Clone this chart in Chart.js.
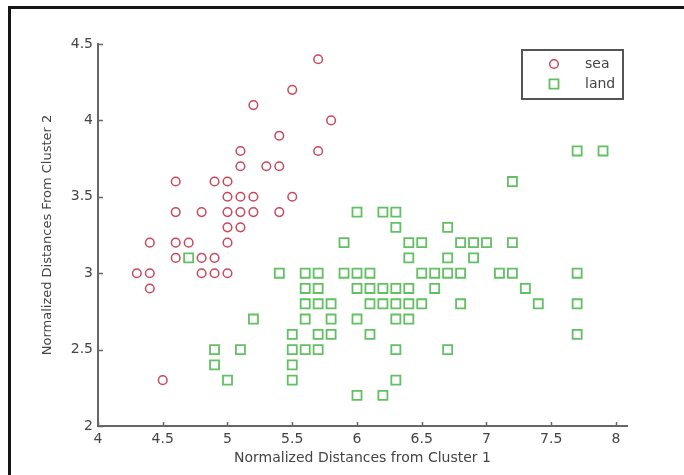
<!DOCTYPE html>
<html>
<head>
<meta charset="utf-8">
<script src="https://cdn.jsdelivr.net/npm/chart.js@4.4.1/dist/chart.umd.min.js"></script>
<style>
  html, body { margin: 0; padding: 0; background: #fff; overflow: hidden; }
  canvas { display: block; }
</style>
</head>
<body>
<canvas id="c" width="684" height="475"></canvas>
<script>
// ---- data ----
const seriesNames = ['sea', 'land'];
const seaX = [5.7,5.5,5.2,5.8,5.4,5.1,5.7,5.1,5.3,5.4,4.6,4.9,5.0,5.0,5.1,5.2,5.5,4.6,4.8,5.0,5.1,5.2,5.4,5.0,5.1,4.4,4.6,4.7,5.0,4.6,4.8,4.9,4.3,4.4,4.8,4.9,5.0,4.4,4.5];
const seaY = [4.4,4.2,4.1,4.0,3.9,3.8,3.8,3.7,3.7,3.7,3.6,3.6,3.6,3.5,3.5,3.5,3.5,3.4,3.4,3.4,3.4,3.4,3.4,3.3,3.3,3.2,3.2,3.2,3.2,3.1,3.1,3.1,3.0,3.0,3.0,3.0,3.0,2.9,2.3];
const landX = [7.7,7.9, 7.2, 6.0,6.2,6.3, 6.3,6.7,
  5.9,6.4,6.5,6.8,6.9,7.0,7.2, 4.7,6.4,6.7,6.9,
  5.4,5.6,5.7,5.9,6.0,6.1,6.5,6.6,6.7,6.8,7.1,7.2,7.7,
  5.6,5.7,6.0,6.1,6.2,6.3,6.4,6.6,7.3,
  5.6,5.7,5.8,6.1,6.2,6.3,6.4,6.5,6.8,7.4,7.7,
  5.2,5.6,5.8,6.0,6.3,6.4,
  5.5,5.7,5.8,6.1,7.7,
  4.9,5.1,5.5,5.6,5.7,6.3,6.7,
  4.9,5.5, 5.0,5.5,6.3, 6.0,6.2];
const landY = [3.8,3.8, 3.6, 3.4,3.4,3.4, 3.3,3.3,
  3.2,3.2,3.2,3.2,3.2,3.2,3.2, 3.1,3.1,3.1,3.1,
  3.0,3.0,3.0,3.0,3.0,3.0,3.0,3.0,3.0,3.0,3.0,3.0,3.0,
  2.9,2.9,2.9,2.9,2.9,2.9,2.9,2.9,2.9,
  2.8,2.8,2.8,2.8,2.8,2.8,2.8,2.8,2.8,2.8,2.8,
  2.7,2.7,2.7,2.7,2.7,2.7,
  2.6,2.6,2.6,2.6,2.6,
  2.5,2.5,2.5,2.5,2.5,2.5,2.5,
  2.4,2.4, 2.3,2.3,2.3, 2.2,2.2];
const xTickValues = [4, 4.5, 5, 5.5, 6, 6.5, 7, 7.5, 8];
const yTickValues = [2, 2.5, 3, 3.5, 4, 4.5];
const xTitle = 'Normalized Distances from Cluster 1';
const yTitle = 'Normalized Distances From Cluster 2';

// ---- styling ----
const FONT = 'DejaVu Sans';
const TEXT = '#444';
const AXIS = '#666';
const RED = '#c8485c';
const GREEN = '#62c062';

const toPts = (xs, ys) => xs.map((x, i) => ({ x: x, y: ys[i] }));

const decor = {
  id: 'decor',
  beforeDraw(chart) {
    const ctx = chart.ctx;
    ctx.save();
    ctx.fillStyle = '#fff';
    ctx.fillRect(0, 0, chart.width, chart.height);
    // outer frame (left + top)
    ctx.fillStyle = '#151515';
    ctx.fillRect(8, 6, 3, chart.height - 6);
    ctx.fillRect(8, 6, chart.width - 8, 3);
    ctx.restore();
  },
  afterDraw(chart) {
    const ctx = chart.ctx;
    const xs = chart.scales.x, ys = chart.scales.y;
    const a = chart.chartArea;
    ctx.save();
    ctx.strokeStyle = AXIS;
    ctx.lineWidth = 1.5;
    ctx.beginPath();
    xTickValues.forEach(v => {
      const px = Math.round(xs.getPixelForValue(v)) + 0.5;
      ctx.moveTo(px, a.bottom); ctx.lineTo(px, a.bottom - 4);
    });
    yTickValues.forEach(v => {
      const py = Math.round(ys.getPixelForValue(v)) + 0.5;
      ctx.moveTo(a.left, py); ctx.lineTo(a.left + 5, py);
    });
    ctx.stroke();

    // legend box
    const bx = 522, by = 50, bw = 101, bh = 49;
    ctx.fillStyle = '#fff';
    ctx.fillRect(bx, by, bw, bh);
    ctx.strokeStyle = '#555';
    ctx.lineWidth = 2;
    ctx.strokeRect(bx, by, bw, bh);
    const items = [
      { ds: chart.data.datasets[0], y: 64 },
      { ds: chart.data.datasets[1], y: 84 }
    ];
    items.forEach(it => {
      const ds = it.ds;
      ctx.strokeStyle = ds.borderColor;
      ctx.lineWidth = ds.borderWidth;
      ctx.fillStyle = 'rgba(0,0,0,0)';
      Chart.helpers.drawPoint(ctx, { pointStyle: ds.pointStyle, radius: ds.pointRadius, borderWidth: ds.borderWidth, rotation: 0 }, 554, it.y);
      ctx.fillStyle = TEXT;
      ctx.font = '14px "' + FONT + '"';
      ctx.textBaseline = 'middle';
      ctx.textAlign = 'left';
      ctx.fillText(ds.label, 585, it.y);
    });
    ctx.restore();
  }
};

new Chart(document.getElementById('c'), {
  type: 'scatter',
  data: {
    datasets: [
      { label: seriesNames[0], data: toPts(seaX, seaY), pointStyle: 'circle', pointRadius: 4.3,
        borderColor: RED, backgroundColor: 'rgba(0,0,0,0)', borderWidth: 1.5, pointHoverRadius: 4.3 },
      { label: seriesNames[1], data: toPts(landX, landY), pointStyle: 'rect', pointRadius: 6.4,
        borderColor: GREEN, backgroundColor: 'rgba(0,0,0,0)', borderWidth: 1.8, pointHoverRadius: 6.4 }
    ]
  },
  options: {
    responsive: false,
    animation: false,
    devicePixelRatio: 1,
    layout: { padding: { top: 44, right: 57, left: 0, bottom: 0 } },
    plugins: { legend: { display: false }, tooltip: { enabled: false } },
    scales: {
      x: {
        type: 'linear', min: 4, max: 8.085,
        afterBuildTicks: s => { s.ticks = xTickValues.map(v => ({ value: v })); },
        afterFit: s => { s.height = 49; },
        grid: { display: false, drawTicks: false, tickLength: 0 },
        border: { display: true, color: AXIS, width: 2 },
        ticks: { padding: 5, color: TEXT, font: { family: FONT, size: 14 }, maxRotation: 0, autoSkip: false,
                 callback: v => String(v) },
        title: { display: true, text: xTitle, color: TEXT, font: { family: FONT, size: 14 }, padding: { top: 0, bottom: 8 } }
      },
      y: {
        type: 'linear', min: 2, max: 4.5,
        afterBuildTicks: s => { s.ticks = yTickValues.map(v => ({ value: v })); },
        afterFit: s => { s.width = 98; },
        grid: { display: false, drawTicks: false, tickLength: 0 },
        border: { display: true, color: AXIS, width: 2 },
        ticks: { padding: 5, color: TEXT, font: { family: FONT, size: 14 }, autoSkip: false,
                 callback: v => String(v) },
        title: { display: true, text: yTitle, color: TEXT, font: { family: FONT, size: 13 }, padding: { top: 40, bottom: 0 } }
      }
    }
  },
  plugins: [decor]
});
</script>
</body>
</html>
